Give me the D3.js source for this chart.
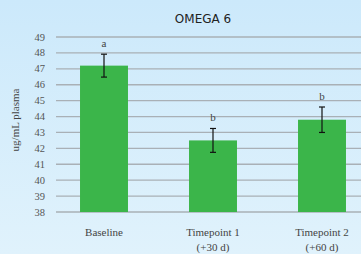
<!DOCTYPE html>
<html lang="en">
<head>
<meta charset="UTF-8" />
<title>Omega 6</title>
<script src="https://d3js.org/d3.v7.min.js"></script>
<style>
  html, body { margin: 0; padding: 0; }
  body { width: 361px; height: 254px; overflow: hidden; }
</style>
</head>
<body>
<div id="chart"></div>
<script>
  // data
  const categories = ["Baseline", "Timepoint 1|(+30 d)", "Timepoint 2|(+60 d)"];
  const values = [47.2, 42.5, 43.8];
  const errors = [0.72, 0.75, 0.8];
  const letters = ["a", "b", "b"];
  const yTicks = d3.range(38, 50);

  const W = 361, H = 254;
  const serif = "Liberation Serif, serif";

  const svg = d3.select("#chart").append("svg")
    .attr("width", W).attr("height", H);

  // background gradient
  const grad = svg.append("defs").append("linearGradient")
    .attr("id", "bg").attr("x1", 0).attr("y1", 0).attr("x2", 0).attr("y2", 1);
  grad.append("stop").attr("offset", "0%").attr("stop-color", "#cce9fb");
  grad.append("stop").attr("offset", "100%").attr("stop-color", "#e0f2fc");
  svg.append("rect").attr("width", W).attr("height", H).attr("fill", "url(#bg)");

  const y = d3.scaleLinear().domain([38, 49]).range([212, 37]);
  const x = d3.scaleBand().domain(categories).range([49.5, 376.5])
    .paddingInner(0.56).paddingOuter(0.28);

  // gridlines
  svg.append("g").selectAll("line").data(yTicks).join("line")
    .attr("x1", 56).attr("x2", W)
    .attr("y1", d => y(d)).attr("y2", d => y(d))
    .attr("stroke", "#a9b0b6").attr("stroke-width", 1.3);

  // y tick labels
  svg.append("g").selectAll("text").data(yTicks).join("text")
    .attr("x", 45).attr("y", d => y(d) + 3.5)
    .attr("text-anchor", "end")
    .attr("font-family", serif)
    .attr("font-size", 10.5)
    .attr("fill", "#555")
    .text(d => d);

  // bars
  svg.append("g").selectAll("rect").data(values).join("rect")
    .attr("x", (d, i) => x(categories[i]))
    .attr("width", x.bandwidth())
    .attr("y", d => y(d))
    .attr("height", d => y(38) - y(d))
    .attr("fill", "#3bb54a");

  // error bars
  const eb = svg.append("g").attr("stroke", "#111").attr("stroke-width", 1.2);
  values.forEach((v, i) => {
    const cx = x(categories[i]) + x.bandwidth() / 2;
    const top = y(v + errors[i]), bot = y(v - errors[i]);
    eb.append("line").attr("x1", cx).attr("x2", cx).attr("y1", top).attr("y2", bot);
    eb.append("line").attr("x1", cx - 3).attr("x2", cx + 3).attr("y1", top).attr("y2", top);
    eb.append("line").attr("x1", cx - 3).attr("x2", cx + 3).attr("y1", bot).attr("y2", bot);
  });

  // significance letters
  svg.append("g").selectAll("text").data(letters).join("text")
    .attr("x", (d, i) => x(categories[i]) + x.bandwidth() / 2)
    .attr("y", (d, i) => y(values[i] + errors[i]) - 7)
    .attr("text-anchor", "middle")
    .attr("font-family", serif)
    .attr("font-size", 11)
    .attr("fill", "#444")
    .text(d => d);

  // x labels
  categories.forEach(c => {
    const cx = x(c) + x.bandwidth() / 2;
    const t = svg.append("text")
      .attr("x", cx).attr("y", 236)
      .attr("text-anchor", "middle")
      .attr("font-family", serif)
      .attr("font-size", 11)
      .attr("fill", "#444");
    c.split("|").forEach((line, j) => {
      t.append("tspan").attr("x", cx).attr("dy", j ? 15 : 0).text(line);
    });
  });

  // title
  svg.append("text")
    .attr("x", 203).attr("y", 23)
    .attr("text-anchor", "middle")
    .attr("font-family", "DejaVu Sans, sans-serif")
    .attr("font-size", 12)
    .attr("fill", "#222")
    .text("OMEGA 6");

  // y axis title
  svg.append("text")
    .attr("transform", "translate(19,120) rotate(-90)")
    .attr("text-anchor", "middle")
    .attr("font-family", serif)
    .attr("font-size", 11)
    .attr("fill", "#444")
    .text("ug/mL plasma");
</script>
</body>
</html>
